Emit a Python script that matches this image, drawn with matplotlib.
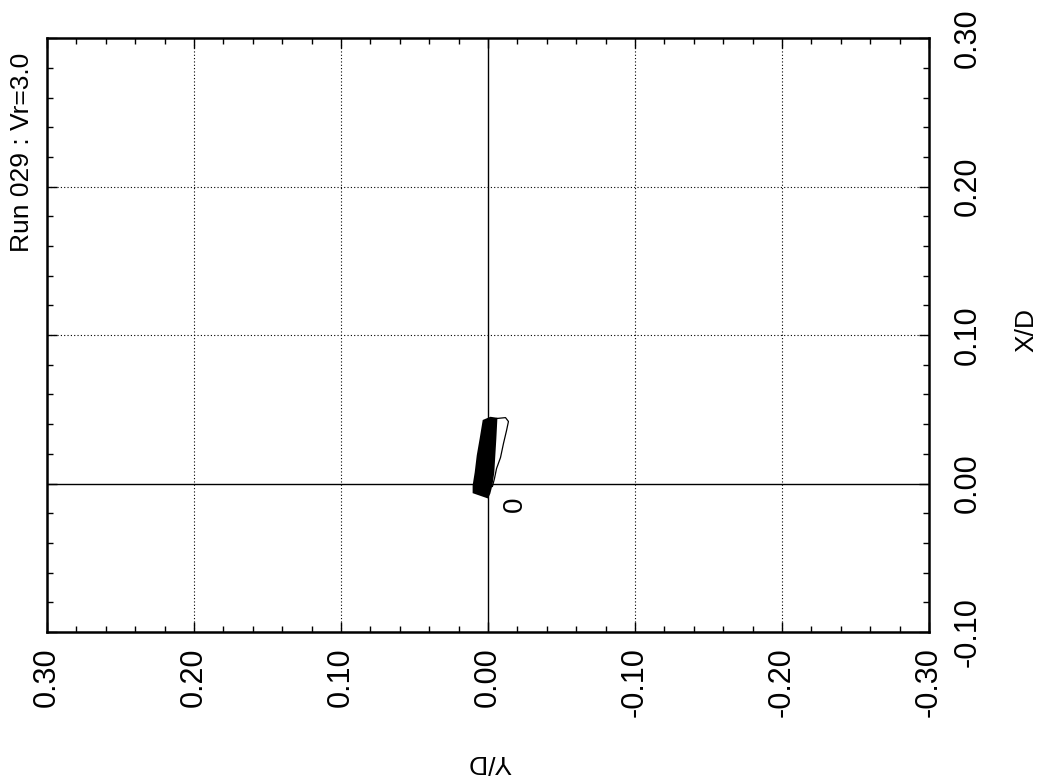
import matplotlib
matplotlib.use("Agg")
import matplotlib.pyplot as plt
from matplotlib.ticker import MultipleLocator, FormatStrFormatter

plt.rcParams['font.family'] = ['Liberation Sans', 'DejaVu Sans']
plt.rcParams['axes.unicode_minus'] = False

# run info
title = "Run 029 : Vr=3.0"

# dense part of the orbit (outline of the many overlapping cycles), Y/D and X/D
band_y = [0.0031, 0.0051, 0.0071, 0.0085, 0.0099, 0.0099, 0.0003, -0.0010,
          -0.0024, -0.0037, -0.0044, -0.0051, -0.0058, -0.0017]
band_x = [0.0424, 0.0303, 0.0189, 0.0074, -0.0013, -0.0061, -0.0094, -0.0067,
          -0.0013, 0.0074, 0.0189, 0.0303, 0.0438, 0.0444]

# single wide cycle on the right side of the band
loop_y = [-0.0058, -0.0119, -0.0139, -0.0126, -0.0105, -0.0085, -0.0058, -0.0044, -0.0030]
loop_x = [0.0438, 0.0444, 0.0418, 0.0357, 0.0269, 0.0175, 0.0101, 0.0034, -0.0020]

# start marker
start_y, start_x, start_label = -0.0180, -0.0141, "0"

fig = plt.figure(figsize=(10.45, 7.83), dpi=100)
ax = fig.add_axes([0.045, 0.193, 0.844, 0.758])

ax.fill(band_y, band_x, color='black', lw=1.2, zorder=3)
ax.plot(loop_y, loop_x, color='black', lw=0.9, zorder=3)
ax.text(start_y, start_x, start_label, rotation=90, fontsize=20,
        ha='center', va='center', zorder=4)

ax.set_xlim(0.30, -0.30)
ax.set_ylim(-0.10, 0.30)

ax.xaxis.set_major_locator(MultipleLocator(0.10))
ax.xaxis.set_minor_locator(MultipleLocator(0.02))
ax.yaxis.set_major_locator(MultipleLocator(0.10))
ax.yaxis.set_minor_locator(MultipleLocator(0.02))
ax.xaxis.set_major_formatter(FormatStrFormatter('%.2f'))
ax.yaxis.set_major_formatter(FormatStrFormatter('%.2f'))

ax.tick_params(which='both', direction='in', top=True, right=True,
               labelleft=False, labelright=True, width=1.0, colors='black')
ax.tick_params(which='major', length=7, labelsize=22)
ax.tick_params(which='minor', length=4)
ax.tick_params(axis='x', pad=11)
ax.tick_params(axis='y', pad=17)
for lab in ax.get_xticklabels():
    lab.set_rotation(90)
for lab in ax.get_yticklabels():
    lab.set_rotation(90)
    lab.set_verticalalignment('center')

# dotted grid, solid zero lines
for v in [0.20, 0.10, -0.10, -0.20]:
    ax.axvline(v, color='black', lw=0.8, ls=(0, (1, 2)), zorder=1)
for v in [0.20, 0.10]:
    ax.axhline(v, color='black', lw=0.8, ls=(0, (1, 2)), zorder=1)
ax.axvline(0.0, color='black', lw=1.0, zorder=2)
ax.axhline(0.0, color='black', lw=1.0, zorder=2)

for s in ax.spines.values():
    s.set_linewidth(1.8)

fig.text(0.021, 0.806, title, rotation=90, fontsize=19, ha='center', va='center')
fig.text(0.982, 0.579, "X/D", rotation=90, fontsize=19, ha='center', va='center')
fig.text(0.468, 0.027, "Y/D", rotation=180, fontsize=19, ha='center', va='center')

fig.savefig("out.png", dpi=100)
